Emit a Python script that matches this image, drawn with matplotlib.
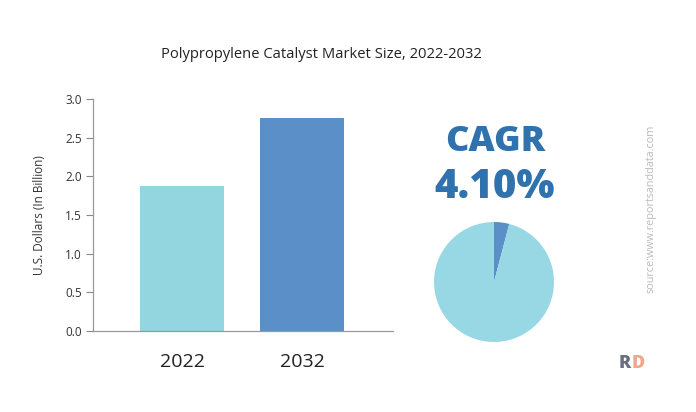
import matplotlib
matplotlib.use("Agg")
import matplotlib.pyplot as plt

years = ["2022", "2032"]
values = [1.87, 2.75]
bar_colors = ["#93d6e0", "#5b8fc7"]
yticks = [0.0, 0.5, 1.0, 1.5, 2.0, 2.5, 3.0]
cagr = 4.10
pie_values = [cagr, 100 - cagr]
pie_colors = ["#5b8fc7", "#98d8e4"]

plt.rcParams['font.family'] = ['Open Sans', 'DejaVu Sans']

fig = plt.figure(figsize=(6.96, 4.12), dpi=100)
ax = fig.add_axes([93/696, (412-331)/412, 300/696, 232/412])
x = list(range(len(years)))
ax.bar(x, values, width=0.7, color=bar_colors)
ax.set_xlim(-0.742, 1.758)
ax.set_ylim(0, 3.0)
ax.set_yticks(yticks)
ax.set_yticklabels([f"{v:.1f}" for v in yticks], fontsize=8.5, color="#333333")
ax.set_xticks(x)
ax.set_xticklabels(years, fontsize=14, color="#222222")
ax.tick_params(axis='x', length=0, pad=16)
ax.tick_params(axis='y', length=5, color="#888888", width=0.8, pad=3)
for s in ["top", "right"]:
    ax.spines[s].set_visible(False)
for s in ["left", "bottom"]:
    ax.spines[s].set_color("#999999")
    ax.spines[s].set_linewidth(0.9)
ax.set_ylabel("U.S. Dollars (In Billion)", fontsize=8.5, color="#333333", labelpad=14)

fig.text(321/696, 1 - 54/412, "Polypropylene Catalyst Market Size, 2022-2032",
         ha="center", va="center", fontsize=10.6, color="#222222")

fig.text(495/696, 1 - 142/412, "CAGR", ha="center", va="center",
         fontsize=26, fontweight="heavy", color="#2f72ad")
fig.text(495/696, 1 - 188/412, f"{cagr:.2f}%", ha="center", va="center",
         fontsize=29, fontweight="heavy", color="#2f72ad")

pax = fig.add_axes([434/696, (412-342)/412, 120/696, 120/412])
pax.pie(pie_values, colors=pie_colors, startangle=90, counterclock=False,
        wedgeprops=dict(linewidth=0))
pax.set_xlim(-1, 1)
pax.set_ylim(-1, 1)
pax.set_aspect("equal")

fig.text(651/696, 1 - 209/412, "source:www.reportsanddata.com", rotation=90,
         ha="center", va="center", fontsize=7.8, color="#bbbbbb")

fig.text(625/696, 1 - 364/412, "R", ha="center", va="center", fontsize=13,
         fontweight="heavy", color="#6b7080")
fig.text(638/696, 1 - 364/412, "D", ha="center", va="center", fontsize=13,
         fontweight="heavy", color="#f4a58a")

fig.savefig("out.png", dpi=100)
